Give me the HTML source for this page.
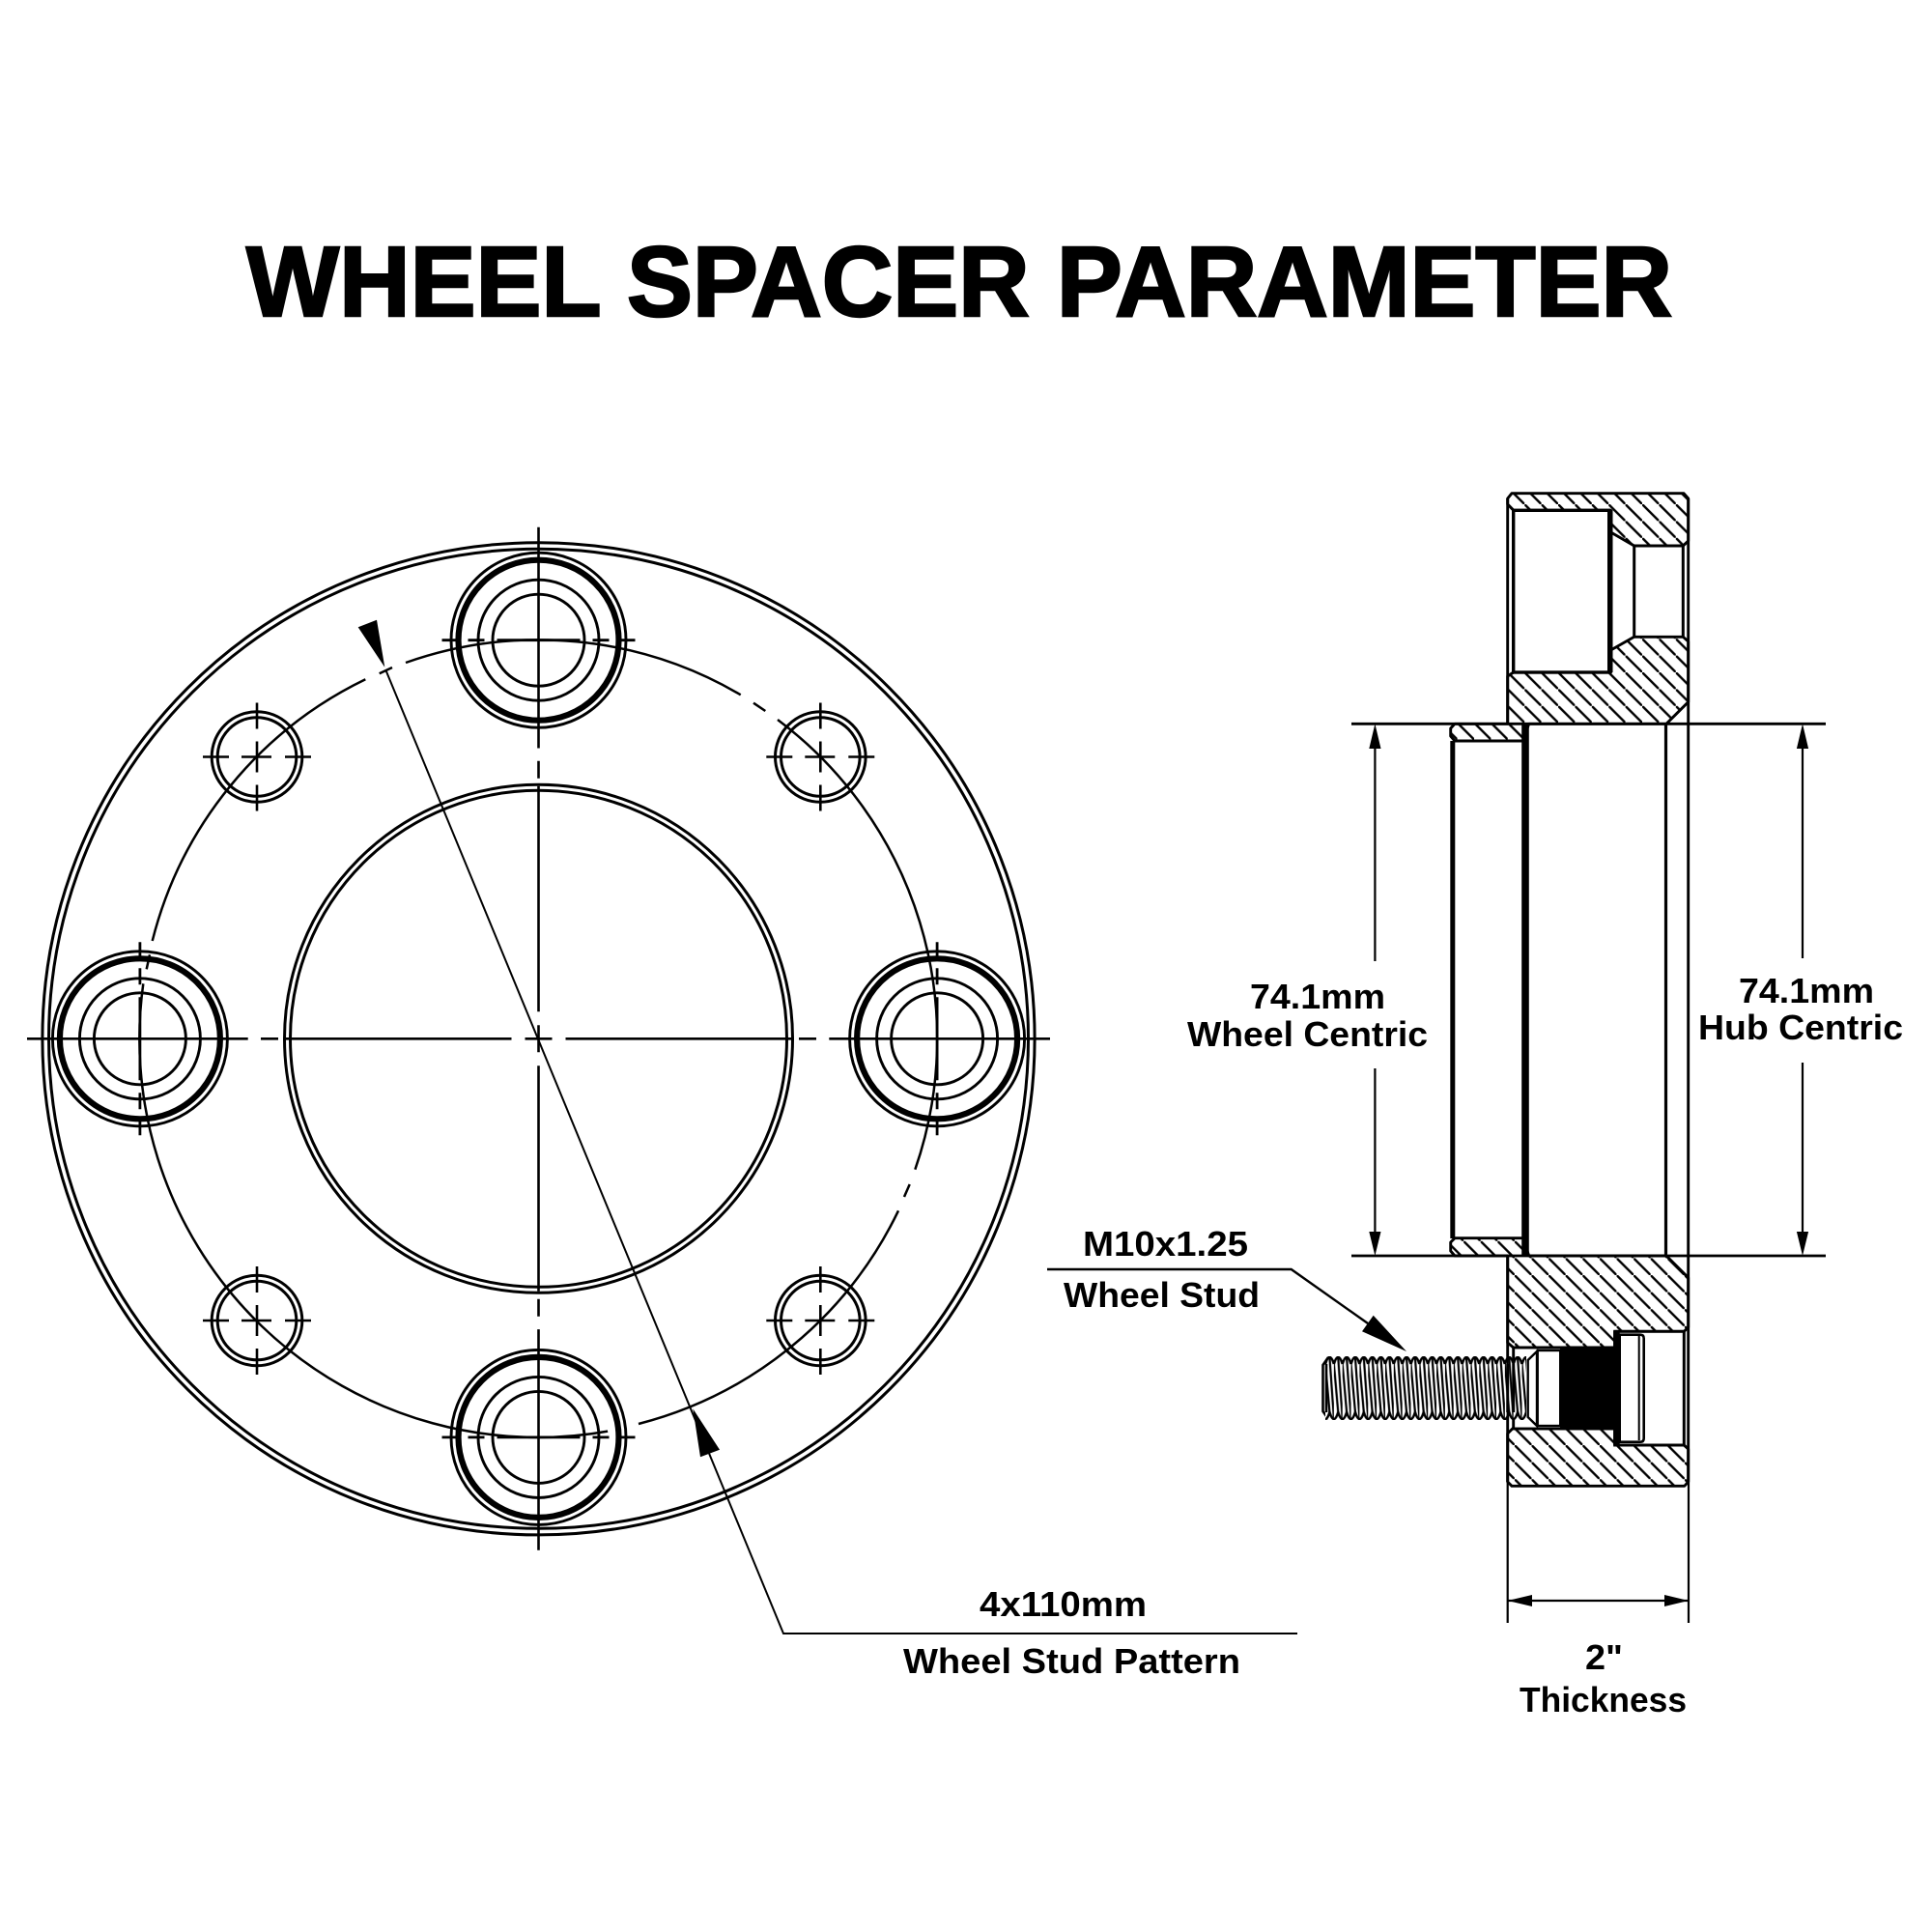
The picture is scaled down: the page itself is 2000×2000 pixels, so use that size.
<!DOCTYPE html>
<html><head><meta charset="utf-8"><style>
html,body{margin:0;padding:0;background:#fff}
svg{display:block}
text{font-family:"Liberation Sans",sans-serif;font-weight:700;fill:#000}
</style></head><body>
<svg xmlns="http://www.w3.org/2000/svg" width="2000" height="2000" viewBox="0 0 2000 2000">
<defs>
<pattern id="h1" patternUnits="userSpaceOnUse" width="17.4" height="17.4" patternTransform="translate(847.4 0)"><path d="M-1 -1L18.4 18.4" stroke="#000" stroke-width="2.4"/></pattern>
<pattern id="h2" patternUnits="userSpaceOnUse" width="17.6" height="17.6" patternTransform="translate(300.7 0)"><path d="M-1 -1L18.6 18.6" stroke="#000" stroke-width="2.4"/></pattern>
<pattern id="th" patternUnits="userSpaceOnUse" x="1372" y="1404" width="8.85" height="66">
<path d="M0 8Q4.42 -6 8.85 8M-4.42 58Q0 72 4.42 58Q8.85 72 13.27 58" fill="#fff" stroke="#000" stroke-width="2.6"/>
<path d="M4.42 1.5L8.85 64.5M0 8L4.42 58" stroke="#000" stroke-width="2.2" fill="none"/>
</pattern>
<g id="bx" fill="none" stroke="#000"><circle r="90.5" stroke-width="2.9"/><circle r="83" stroke-width="6.2"/><circle r="62.5" stroke-width="2.9"/><circle r="47.5" stroke-width="2.9"/></g>
<path id="dh" d="M-100 0H-84M-73 0H-56M-43 0H43M56 0H73M84 0H100" fill="none" stroke="#000" stroke-width="2.8"/>
<path id="dv" d="M0 -100V-84M0 -73V-56M0 -43V43M0 56V73M0 84V100" fill="none" stroke="#000" stroke-width="2.8"/>
<g id="sx" fill="none" stroke="#000"><circle r="46.8" stroke-width="3"/><circle r="40.8" stroke-width="3"/><path d="M-56 0H-29M-16 0H15M29 0H56M0 -56V-29M0 -16V16M0 29V56" stroke-width="2.6"/></g>
</defs>
<rect width="2000" height="2000" fill="#fff"/>

<text x="255" y="327" font-size="103" textLength="1476" lengthAdjust="spacingAndGlyphs" stroke="#000" stroke-width="2.5">WHEEL SPACER PARAMETER</text>

<!-- front view -->
<g fill="none" stroke="#000" stroke-width="3">
<circle cx="557.5" cy="1075.3" r="513.6"/><circle cx="557.5" cy="1075.3" r="507"/>
<circle cx="557.5" cy="1075.3" r="263"/><circle cx="557.5" cy="1075.3" r="257"/>
</g>
<path d="M28 1075.3H256.7M270 1075.3H288M296 1075.3H529.5M543.5 1075.3H571.5M585.5 1075.3H819M827 1075.3H845M858.3 1075.3H1087M557.5 545.8V774.5M557.5 787.8V805.8M557.5 813.8V1047.3M557.5 1061.3V1089.3M557.5 1103.3V1336.8M557.5 1344.8V1362.8M557.5 1376.1V1604.8" fill="none" stroke="#000" stroke-width="2.6"/>
<use href="#bx" x="557.5" y="662.7"/><use href="#bx" x="557.5" y="1487.9"/><use href="#bx" x="144.9" y="1075.3"/><use href="#bx" x="970.1" y="1075.3"/>
<use href="#dh" x="557.5" y="662.7"/><use href="#dh" x="557.5" y="1487.9"/><use href="#dv" x="144.9" y="1075.3"/><use href="#dv" x="970.1" y="1075.3"/>
<use href="#sx" x="266" y="783.5"/><use href="#sx" x="849.3" y="783.5"/><use href="#sx" x="266" y="1367"/><use href="#sx" x="849.3" y="1367"/>
<path d="M766.7 719.3A412.6 412.6 0 0 0 420 686M406 691L392.7 697.3M378.3 703.3A412.6 412.6 0 0 0 157.7 974M155 988.3L151.7 1003.3M148.3 1018.3A412.6 412.6 0 0 0 629.1 1481.6M661 1474A412.6 412.6 0 0 0 930 1253.3M936 1239L941.7 1226M947.3 1210.7A412.6 412.6 0 0 0 805 745M792.3 736L780 727.7" fill="none" stroke="#000" stroke-width="2.5"/>
<path d="M399.5 694L811 1691H1343" fill="none" stroke="#000" stroke-width="2"/>
<path d="M370.7 649.3L390 641.7L398.3 690.7Z" fill="#000"/>
<path d="M717.3 1458.3L725 1508.3L745 1500.7Z" fill="#000"/>

<!-- section view: hatched parts -->
<g stroke="#000" stroke-width="2.9" stroke-linejoin="round">
<path d="M1560.7 516L1565 510.7H1743L1747.7 516V560L1742.3 565H1691.7L1667.5 551V528.3H1566.7L1560.7 522Z" fill="url(#h1)"/>
<path d="M1560.7 700L1566.7 696H1667.5V673L1691.7 659.3H1742.3L1747.7 664V726.7L1725 749.3H1582.7L1576.7 767H1506L1501.7 762V754L1506 749.3H1560.7Z" fill="url(#h1)"/>
<path d="M1501.7 1295V1286L1506 1281.7H1576.7L1582.7 1300H1725L1747.7 1322.7V1374L1743.3 1378.3H1671.7V1395H1566.7L1560.7 1390V1300H1506Z" fill="url(#h2)"/>
<path d="M1560.7 1484L1566.7 1478H1671.7V1496H1743.3L1747.7 1500V1534L1743.7 1538.3H1565L1560.7 1534Z" fill="url(#h2)"/>
</g>
<g fill="none" stroke="#000">
<rect x="1566.7" y="528.3" width="99" height="167.7" stroke-width="3.4"/>
<path d="M1667 528V696" stroke-width="5"/>
<path d="M1560.7 516V749.3M1560.7 1300V1534M1747.7 516V1534" stroke-width="2.9"/>
<path d="M1691.7 565V659.3M1742.3 565V659.3" stroke-width="3"/>
<path d="M1503.8 767V1282" stroke-width="5"/>
<path d="M1579 749V1300" stroke-width="7.6"/>
<path d="M1724.5 749V1300" stroke-width="3.2"/>
<path d="M1399 749.3H1890M1399 1300H1890" stroke-width="2.8"/>
<path d="M1560.7 1534V1680M1748 1534V1680" stroke-width="2.2"/>
<path d="M1560.7 1657H1748" stroke-width="2.2"/>
<path d="M1423.4 770V995M1423.4 1106V1280M1866 770V992M1866 1100V1280" stroke-width="2.2"/>
</g>
<path d="M1423.4 749.3L1429.5 775H1417.3ZM1423.4 1300L1429.5 1275H1417.3ZM1866 749.3L1872.1 775H1859.9ZM1866 1300L1872.1 1275H1859.9ZM1560.7 1657L1586 1651V1663ZM1748 1657L1723 1651V1663Z" fill="#000"/>

<!-- stud -->
<g stroke="#000">
<rect x="1566.7" y="1395" width="105" height="84" fill="#fff" stroke-width="2.9"/>
<path d="M1581.7 1408L1591 1399V1476L1581.7 1467Z" fill="#fff" stroke-width="2.4"/>
<rect x="1591.7" y="1398" width="23.5" height="78" fill="#fff" stroke-width="2.4"/>
<rect x="1615" y="1395" width="57" height="85" fill="#000" stroke="none"/>
<rect x="1671.7" y="1378.3" width="71.6" height="117.7" fill="#fff" stroke-width="3"/>
<path d="M1673.5 1378V1496" stroke-width="6.4"/>
<path d="M1676.7 1381.7H1698Q1701.7 1381.7 1701.7 1385.5V1489Q1701.7 1492.7 1698 1492.7H1676.7Z" fill="#fff" stroke-width="2.6"/>
<path d="M1696.7 1383V1491" fill="none" stroke-width="2"/>
<path d="M1369.5 1413L1373 1408V1466L1369.5 1461Z" fill="#fff" stroke-width="2.6"/>
</g>
<rect x="1372" y="1404" width="208" height="66" fill="url(#th)"/>
<path d="M1560.7 1396V1478" fill="none" stroke="#000" stroke-width="2.2"/>

<!-- stud leader -->
<path d="M1084 1314H1336.7L1416 1370" fill="none" stroke="#000" stroke-width="2.4"/>
<path d="M1456 1399L1410 1378.3L1421.7 1361.7Z" fill="#000"/>

<!-- labels -->
<text x="1294" y="1044" font-size="36" textLength="140" lengthAdjust="spacingAndGlyphs">74.1mm</text>
<text x="1229" y="1083" font-size="36" textLength="249" lengthAdjust="spacingAndGlyphs">Wheel Centric</text>
<text x="1800" y="1038" font-size="36" textLength="140" lengthAdjust="spacingAndGlyphs">74.1mm</text>
<text x="1758" y="1076" font-size="36" textLength="212" lengthAdjust="spacingAndGlyphs">Hub Centric</text>
<text x="1121" y="1300" font-size="36" textLength="171" lengthAdjust="spacingAndGlyphs">M10x1.25</text>
<text x="1101" y="1353" font-size="36" textLength="203" lengthAdjust="spacingAndGlyphs">Wheel Stud</text>
<text x="1014" y="1673" font-size="36" textLength="173" lengthAdjust="spacingAndGlyphs">4x110mm</text>
<text x="935" y="1732" font-size="36" textLength="349" lengthAdjust="spacingAndGlyphs">Wheel Stud Pattern</text>
<text x="1641" y="1728" font-size="36" textLength="39" lengthAdjust="spacingAndGlyphs">2"</text>
<text x="1573" y="1772" font-size="36" textLength="173" lengthAdjust="spacingAndGlyphs">Thickness</text>
</svg>
</body></html>
